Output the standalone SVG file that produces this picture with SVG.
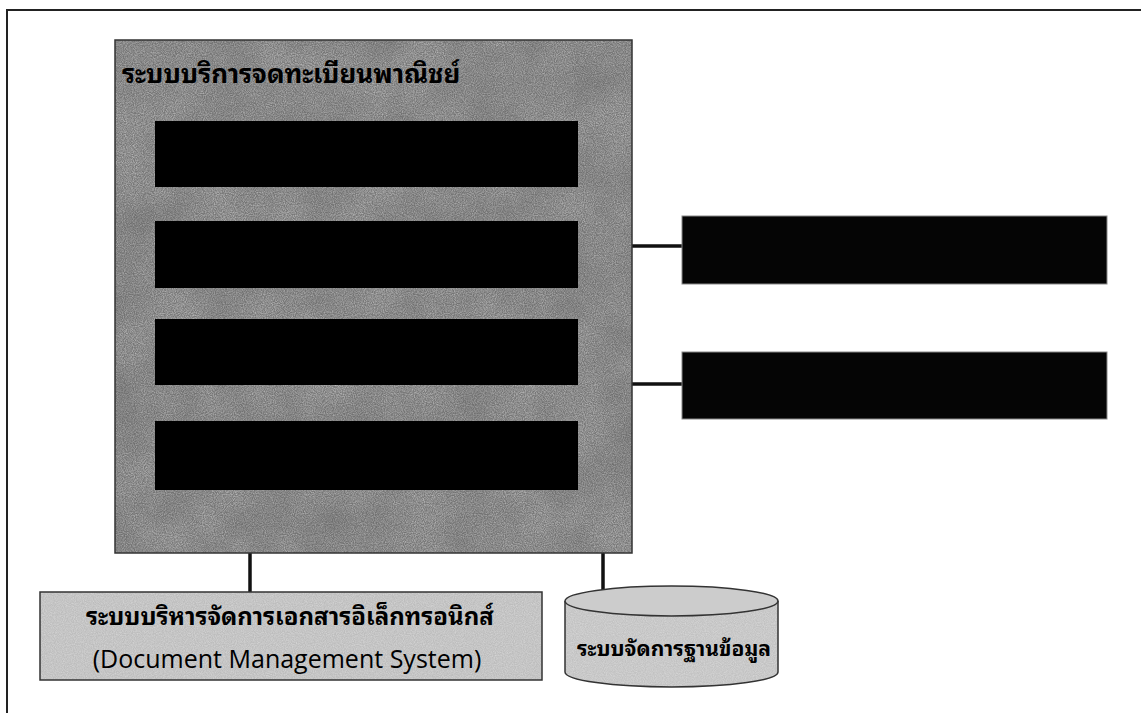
<svg xmlns="http://www.w3.org/2000/svg" width="1141" height="713" viewBox="0 0 1141 713">
<defs>
<style>
.frame{fill:none;stroke:#222;stroke-width:2}
.bar{fill:#000}
.rbox{fill:#050505;stroke:#888;stroke-width:1}
.conn{stroke:#111;stroke-width:3.5;fill:none}
.thai{font-family:"Noto Sans Thai Looped","Tahoma","Loma","Garuda","Noto Sans Thai","Noto Sans",sans-serif;fill:#000}
.lat{font-family:"Open Sans","Noto Sans",sans-serif;fill:#000}
.edge{fill:none;stroke:#333;stroke-width:1.5}
</style>
<filter id="grain" x="0" y="0" width="100%" height="100%">
<feTurbulence type="fractalNoise" baseFrequency="0.9" numOctaves="2" seed="3" result="n"/>
<feColorMatrix in="n" type="matrix" values="0 0 0 0 0  0 0 0 0 0  0 0 0 0 0  0 0 0 -1.4 1.0" result="a"/>
<feComposite in="SourceGraphic" in2="a" operator="in"/>
</filter>
<filter id="mottle" x="0" y="0" width="100%" height="100%">
<feTurbulence type="fractalNoise" baseFrequency="0.02" numOctaves="3" seed="7" result="n"/>
<feColorMatrix in="n" type="matrix" values="0 0 0 0 0  0 0 0 0 0  0 0 0 0 0  0 0 0 -1.2 0.85" result="a"/>
<feComposite in="SourceGraphic" in2="a" operator="in"/>
</filter>
</defs>
<rect x="0" y="0" width="1141" height="713" fill="#fff"/>
<path class="frame" d="M7 713 V10 H1141"/>

<g id="connectors">
<line class="conn" x1="632" y1="246" x2="682" y2="246"/>
<line class="conn" x1="632" y1="384" x2="682" y2="384"/>
<line class="conn" x1="250" y1="553" x2="250" y2="592"/>
<line class="conn" x1="603" y1="553" x2="603" y2="590"/>
</g>

<g id="main-system">
<rect x="115" y="40" width="517" height="513" fill="#787878"/>
<rect x="115" y="40" width="517" height="513" fill="#c4c4c4" filter="url(#grain)"/>
<rect x="115" y="40" width="517" height="513" fill="#555" filter="url(#mottle)" opacity="0.4"/>
<rect class="edge" x="115" y="40" width="517" height="513"/>
<text class="thai" x="122" y="83" font-size="26" font-weight="bold">ระบบบริการจดทะเบียนพาณิชย์</text>
<rect class="bar" x="155" y="121" width="423" height="66"/>
<rect class="bar" x="155" y="221" width="423" height="67"/>
<rect class="bar" x="155" y="319" width="423" height="66"/>
<rect class="bar" x="155" y="421" width="423" height="69"/>
</g>

<g id="right-box-1">
<rect class="rbox" x="682" y="216" width="425" height="68"/>
</g>
<g id="right-box-2">
<rect class="rbox" x="682" y="352" width="425" height="67"/>
</g>

<g id="dms">
<rect x="40" y="592" width="502" height="88" fill="#bdbdbd"/>
<rect x="40" y="592" width="502" height="88" fill="#e3e3e3" filter="url(#grain)" opacity="0.7"/>
<rect class="edge" x="40" y="592" width="502" height="88"/>
<text class="thai" x="290" y="625" font-size="24" font-weight="bold" text-anchor="middle">ระบบบริหารจัดการเอกสารอิเล็กทรอนิกส์</text>
<text class="lat" x="287" y="668" font-size="25" text-anchor="middle">(Document Management System)</text>
</g>

<g id="database">
<path d="M565 601 V672 A106.5 15 0 0 0 778 672 V601" fill="#c2c2c2"/>
<path d="M565 601 V672 A106.5 15 0 0 0 778 672 V601" fill="#e3e3e3" filter="url(#grain)" opacity="0.7"/>
<path class="edge" d="M565 601 V672 A106.5 15 0 0 0 778 672 V601"/>
<ellipse cx="671.5" cy="601" rx="106.5" ry="15" fill="#cccccc" stroke="#333" stroke-width="1.5"/>
<text class="thai" x="674" y="656" font-size="21" font-weight="bold" text-anchor="middle">ระบบจัดการฐานข้อมูล</text>
</g>
</svg>
